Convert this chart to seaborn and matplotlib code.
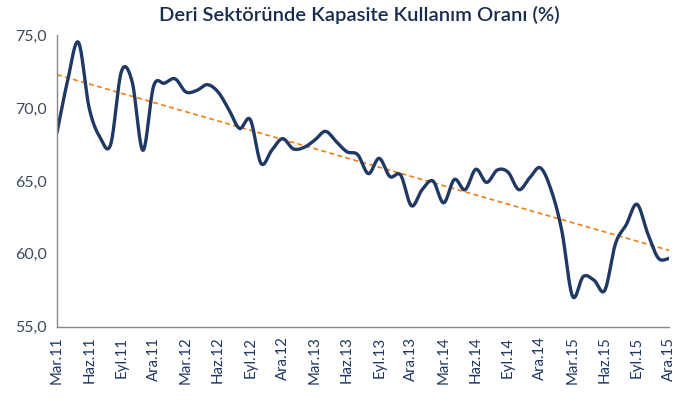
import numpy as np
import pandas as pd
import matplotlib
matplotlib.use("Agg")
import matplotlib.pyplot as plt
import seaborn as sns

# ***DATOS***
kapasite = [68.3, 71.9, 74.5, 70.0, 68.0, 67.5, 72.5, 71.8, 67.1, 71.5,
            71.7, 72.0, 71.1, 71.2, 71.6, 71.1, 69.9, 68.6, 69.2, 66.2,
            67.1, 67.9, 67.2, 67.3, 67.8, 68.4, 67.7, 67.0, 66.8, 65.5,
            66.55, 65.3, 65.4, 63.3, 64.4, 65.0, 63.5, 65.1, 64.4, 65.8,
            64.9, 65.75, 65.6, 64.4, 65.2, 65.9, 64.4, 61.6, 57.1, 58.45,
            58.2, 57.5, 60.7, 62.0, 63.4, 61.4, 59.7, 59.7]
tick_etiketleri = ["Mar.11", "Haz.11", "Eyl.11", "Ara.11", "Mar.12", "Haz.12", "Eyl.12",
                   "Ara.12", "Mar.13", "Haz.13", "Eyl.13", "Ara.13", "Mar.14", "Haz.14",
                   "Eyl.14", "Ara.14", "Mar.15", "Haz.15", "Eyl.15", "Ara.15"]
y_tickler = [55, 60, 65, 70, 75]
baslik = "Deri Sektöründe Kapasite Kullanım Oranı (%)"


# ***FUNCIONES***

# excel tipi yumusak cizgi (catmull-rom)
def yumusat(x, y, n=20):
    x = np.asarray(x, float)
    y = np.asarray(y, float)
    px = np.concatenate([[x[0]], x, [x[-1]]])
    py = np.concatenate([[y[0]], y, [y[-1]]])
    xs, ys = [], []
    t = np.linspace(0, 1, n, endpoint=False)
    for i in range(1, len(px) - 2):
        p0, p1, p2, p3 = py[i - 1], py[i], py[i + 1], py[i + 2]
        q0, q1, q2, q3 = px[i - 1], px[i], px[i + 1], px[i + 2]
        for a, b, c, d, out in ((q0, q1, q2, q3, xs), (p0, p1, p2, p3, ys)):
            out.extend(0.5 * (2 * b + (-a + c) * t + (2 * a - 5 * b + 4 * c - d) * t ** 2
                              + (-a + 3 * b - 3 * c + d) * t ** 3))
    xs.append(x[-1])
    ys.append(y[-1])
    return np.array(xs), np.array(ys)


ay_no = np.arange(len(kapasite))
sx, sy = yumusat(ay_no, kapasite)
egim, kesisim = np.polyfit(ay_no, kapasite, 1)
df = pd.DataFrame({"ay": sx, "oran": sy})
trend = pd.DataFrame({"ay": ay_no, "oran": egim * ay_no + kesisim})

sns.set_style("white")
plt.rcParams['font.family'] = ['Lato', 'DejaVu Sans']

fig, ax = plt.subplots(figsize=(6.78, 4.03), dpi=100)
fig.subplots_adjust(left=0.084, right=0.987, top=0.913, bottom=0.189)

sns.lineplot(data=trend, x="ay", y="oran", ax=ax, color="#F07F1A", lw=1.2,
             linestyle=(0, (3, 2)), sort=False)
sns.lineplot(data=df, x="ay", y="oran", ax=ax, color="#1F3864", lw=2.4, sort=False)

ax.set_xlim(0, len(kapasite) - 1)
ax.set_ylim(55, 75)
ax.set_yticks(y_tickler)
ax.set_yticklabels([f"{v:.1f}".replace(".", ",") for v in y_tickler],
                   fontsize=11.5, color="#3B4A5C")
ax.set_xticks(np.arange(0, len(kapasite), 3))
ax.set_xticklabels(tick_etiketleri, rotation=90, fontsize=10.8, color="#1F3864")
ax.set_xlabel("")
ax.set_ylabel("")
ax.tick_params(axis="both", direction="out", length=5, width=1, color="#888888", pad=2)
for s in ["top", "right"]:
    ax.spines[s].set_visible(False)
for s in ["left", "bottom"]:
    ax.spines[s].set_color("#888888")
    ax.spines[s].set_linewidth(1)

fig.suptitle(baslik, x=0.53, y=0.985, fontsize=14.5, fontweight="semibold", color="#172B4D")

plt.savefig("out.png", dpi=100)
